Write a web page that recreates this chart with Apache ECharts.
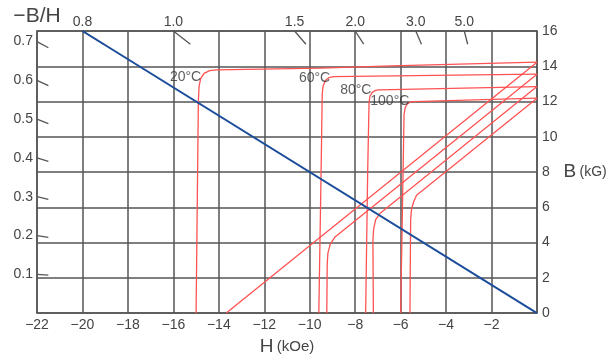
<!DOCTYPE html>
<html>
<head>
<meta charset="utf-8">
<script src="https://cdn.jsdelivr.net/npm/echarts@6/dist/echarts.min.js"></script>
<style>
  html, body { margin: 0; padding: 0; background: #fff; }
  #chart { width: 610px; height: 361px; }
</style>
</head>
<body>
<div id="chart"></div>
<script>
// Demagnetization curves: intrinsic (flat, then dropping at Hcj) and normal (B–H) curves
// H in kOe, B in kG

const temperatures = ['20°C', '60°C', '80°C', '100°C'];

const intrinsic20 = [[-15.0, 0], [-14.95, 6], [-14.9, 12.0], [-14.87, 12.85], [-14.8, 13.3], [-14.65, 13.6], [-14.4, 13.75], [-14.1, 13.79], [-9.5, 13.89], [-6.4, 14.02], [0, 14.23]];
const normal20 = [[-13.67, 0], [0, 14.23]];

const intrinsic60 = [[-9.6, 0], [-9.5, 8], [-9.45, 12.4], [-9.41, 12.9], [-9.3, 13.2], [-9.15, 13.36], [-8.95, 13.41], [-4.5, 13.48], [0, 13.55]];
const normal60 = [[-9.25, 0], [-9.23, 2.8], [-9.2, 3.4], [-9.1, 3.9], [-8.9, 4.3], [0, 13.55]];

const intrinsic80 = [[-7.54, 0], [-7.45, 8], [-7.39, 11.93], [-7.35, 12.3], [-7.25, 12.52], [-7.1, 12.63], [-6.96, 12.66], [0, 12.85]];
const normal80 = [[-7.2, 0], [-7.22, 4.1], [-7.19, 4.75], [-7.1, 5.3], [-6.9, 5.67], [0, 12.85]];

const intrinsic100 = [[-6.0, 0], [-5.92, 6], [-5.85, 11.25], [-5.8, 11.65], [-5.7, 11.88], [-5.55, 11.98], [-5.42, 12.0], [0, 12.19]];
const normal100 = [[-5.59, 0], [-5.56, 5.3], [-5.52, 5.9], [-5.43, 6.3], [-5.3, 6.68], [0, 12.19]];

// permeance (load) line, −B/H = 0.8
const loadLine = [[-20, 16], [0, 0]];

// permeance coefficient scale along the top edge and −B/H scale on the left edge
const permeanceTicks = [0.8, 1.0, 1.5, 2.0, 3.0, 5.0];
const ratioTicks = [0.1, 0.2, 0.3, 0.4, 0.5, 0.6, 0.7];

const H_MIN = -22, H_MAX = 0, B_MAX = 16;

const FONT = "'Liberation Sans', Arial, sans-serif";
const TEXT = '#444';
const GRID = '#555';
const RED = '#ff5252';
const BLUE = '#1b4d9b';

const chart = echarts.init(document.getElementById('chart'), null, { renderer: 'canvas' });

const fmtNum = v => v < 0 ? '\u2212' + Math.abs(v) : String(v);

// short slanted marks lying on the permeance lines through the origin
const tickSegments = [];
permeanceTicks.forEach(p => {
  tickSegments.push({ coords: [[-B_MAX / p, B_MAX], [-(B_MAX - 0.75) / p, B_MAX - 0.75]] });
});
ratioTicks.forEach(r => {
  tickSegments.push({ coords: [[H_MIN, -H_MIN * r], [H_MIN + 0.5, -(H_MIN + 0.5) * r]] });
});

const curveSeries = (data) => ({
  type: 'line',
  xAxisIndex: 0,
  yAxisIndex: 1,
  data: data,
  showSymbol: false,
  symbol: 'none',
  silent: true,
  lineStyle: { color: RED, width: 1.3 },
  z: 3
});

// temperature captions, anchored at the knee of each intrinsic curve
const captionAnchors = [intrinsic20[7], intrinsic60[6], intrinsic80[6], intrinsic100[6]];
const captionOffsets = [[-31, 7], [-19, 1], [-23, 0], [-24, 0]];

const option = {
  animation: false,
  backgroundColor: '#fff',
  textStyle: { fontFamily: FONT },
  grid: { left: 37, right: 73, top: 31, bottom: 47 },
  xAxis: [
    {
      type: 'value', position: 'bottom',
      min: H_MIN, max: H_MAX, interval: 2,
      name: '{h|H} {u|(kOe)}',
      nameLocation: 'middle', nameGap: 15,
      nameTextStyle: {
        rich: {
          h: { fontSize: 19, color: TEXT, fontFamily: FONT },
          u: { fontSize: 15, color: TEXT, fontFamily: FONT }
        }
      },
      axisLine: { onZero: false, lineStyle: { color: GRID, width: 1.5 } },
      axisTick: { show: false },
      axisLabel: {
        color: TEXT, fontSize: 14, margin: 5, fontFamily: FONT,
        formatter: v => v === 0 ? '' : fmtNum(v)
      },
      splitLine: { show: true, lineStyle: { color: GRID, width: 1.5 } }
    },
    {
      type: 'value', position: 'top',
      min: H_MIN, max: H_MAX,
      axisLine: { onZero: false, lineStyle: { color: GRID, width: 1.5 } },
      axisTick: { show: false },
      axisLabel: {
        color: TEXT, fontSize: 14, margin: 2, fontFamily: FONT,
        customValues: permeanceTicks.map(p => -B_MAX / p),
        formatter: v => (-B_MAX / v).toFixed(1)
      },
      splitLine: { show: false }
    }
  ],
  yAxis: [
    {
      type: 'value', position: 'left',
      min: 0, max: B_MAX / -H_MIN,
      name: '\u2212B/H',
      nameLocation: 'end', nameGap: 15,
      nameTextStyle: { fontSize: 21, color: TEXT, align: 'center', verticalAlign: 'middle', fontFamily: FONT },
      axisLine: { onZero: false, lineStyle: { color: GRID, width: 1.5 } },
      axisTick: { show: false },
      axisLabel: {
        color: TEXT, fontSize: 14, margin: 4, fontFamily: FONT,
        customValues: ratioTicks,
        formatter: v => v.toFixed(1)
      },
      splitLine: { show: false }
    },
    {
      type: 'value', position: 'right',
      min: 0, max: B_MAX, interval: 2,
      name: '{b|B} {u|(kG)}',
      nameLocation: 'middle', nameGap: 22, nameRotate: 0,
      nameTextStyle: {
        align: 'left',
        rich: {
          b: { fontSize: 19, color: TEXT, fontFamily: FONT },
          u: { fontSize: 14, color: TEXT, fontFamily: FONT }
        }
      },
      axisLine: { onZero: false, lineStyle: { color: GRID, width: 1.5 } },
      axisTick: { show: false },
      axisLabel: { color: TEXT, fontSize: 14, margin: 5, fontFamily: FONT },
      splitLine: { show: true, lineStyle: { color: GRID, width: 1.5 } }
    }
  ],
  series: [
    {
      type: 'lines',
      coordinateSystem: 'cartesian2d',
      xAxisIndex: 0, yAxisIndex: 1,
      silent: true,
      data: tickSegments,
      lineStyle: { color: GRID, width: 1.3, opacity: 1 },
      z: 2
    },
    curveSeries(intrinsic20), curveSeries(normal20),
    curveSeries(intrinsic60), curveSeries(normal60),
    curveSeries(intrinsic80), curveSeries(normal80),
    curveSeries(intrinsic100), curveSeries(normal100),
    {
      type: 'line',
      xAxisIndex: 0, yAxisIndex: 1,
      data: loadLine,
      showSymbol: false, symbol: 'none', silent: true,
      lineStyle: { color: BLUE, width: 2 },
      z: 4
    },
    {
      type: 'scatter',
      xAxisIndex: 0, yAxisIndex: 1,
      silent: true,
      symbolSize: 1,
      itemStyle: { color: 'rgba(0,0,0,0)' },
      data: temperatures.map((t, i) => ({
        name: t,
        value: captionAnchors[i],
        label: { offset: captionOffsets[i] }
      })),
      label: {
        show: true, position: 'inside', formatter: '{b}',
        color: '#333', fontSize: 14, fontFamily: FONT
      },
      z: 5
    }
  ]
};

chart.setOption(option);
</script>
</body>
</html>
